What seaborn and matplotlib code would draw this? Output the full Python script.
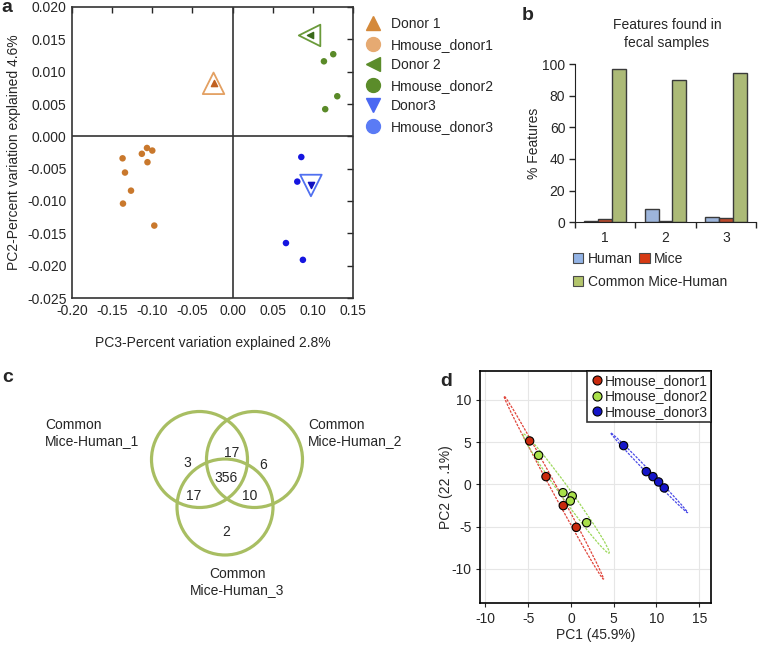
import numpy as np
import pandas as pd
import matplotlib
matplotlib.use('Agg')
import matplotlib.pyplot as plt
from matplotlib.lines import Line2D
from matplotlib.patches import Ellipse, Circle, Patch
import seaborn as sns

# ---- panel a: PCoA donors vs humanized mice
hm1_x = [-0.137, -0.134, -0.1265, -0.1365, -0.113, -0.1066, -0.100, -0.106, -0.0975]
hm1_y = [-0.0034, -0.0056, -0.0084, -0.0104, -0.0027, -0.0018, -0.0022, -0.0040, -0.0138]
hm2_x = [0.1254, 0.1138, 0.1304, 0.1154]
hm2_y = [0.0127, 0.0116, 0.0062, 0.0042]
hm3_x = [0.0856, 0.0806, 0.0665, 0.0876]
hm3_y = [-0.0032, -0.0070, -0.0165, -0.0191]
donor_x = [-0.0237, 0.0959, 0.0976]
donor_y = [0.0082, 0.0156, -0.0076]

# ---- panel b: features found in fecal samples
groups_b = ['1', '2', '3']
human_pct = [0.8, 8.6, 3.4]
mice_pct = [1.9, 1.0, 2.8]
common_pct = [96.8, 90.1, 94.3]

# ---- panel c: venn counts
venn_sets = ['Common\nMice-Human_1', 'Common\nMice-Human_2', 'Common\nMice-Human_3']
only1, only2, only3 = 3, 6, 2
both12, both13, both23 = 17, 17, 10
all3 = 356

# ---- panel d: PCA of humanized mice
pd1_x = [-4.82, -2.91, -0.89, 0.63]
pd1_y = [5.15, 0.93, -2.50, -5.07]
pd2_x = [-3.77, -0.93, 0.16, -0.07, 1.84]
pd2_y = [3.45, -0.97, -1.36, -1.95, -4.52]
pd3_x = [6.16, 8.81, 9.59, 10.25, 10.91]
pd3_y = [4.60, 1.52, 0.93, 0.30, -0.41]

sns.set_style('white')
plt.rcParams['font.family'] = ['Liberation Sans', 'DejaVu Sans']
plt.rcParams['font.size'] = 10
plt.rcParams['axes.unicode_minus'] = False

W, H = 759, 648
fig = plt.figure(figsize=(W / 100, H / 100), dpi=100)

def box(l, t, r, b):
    return [l / W, 1 - b / H, (r - l) / W, (b - t) / H]

# ================= a
ax = fig.add_axes(box(72, 7, 353, 298))
c_or, c_gr, c_bl = '#C9782C', '#5A8A28', '#1515E0'
sns.scatterplot(x=hm1_x, y=hm1_y, color=c_or, s=22, edgecolor='none', ax=ax)
sns.scatterplot(x=hm2_x, y=hm2_y, color=c_gr, s=22, edgecolor='none', ax=ax)
sns.scatterplot(x=hm3_x, y=hm3_y, color=c_bl, s=22, edgecolor='none', ax=ax)
hollow_cols = ['#E3A062', '#6A9A3A', '#5070F0']
inner_cols = ['#C06020', '#3A6A1A', '#1010C0']
marks = ['^', '<', 'v']
for i in range(3):
    ax.scatter(donor_x[i], donor_y[i], marker=marks[i], s=240, facecolor='none',
               edgecolor=hollow_cols[i], linewidth=1.3)
    ax.scatter(donor_x[i], donor_y[i], marker=marks[i], s=20, color=inner_cols[i])
ax.axhline(0, color='#333333', lw=1.2)
ax.axvline(0, color='#333333', lw=1.2)
ax.set_xlim(-0.20, 0.15)
ax.set_ylim(-0.025, 0.020)
xt = np.round(np.arange(-0.20, 0.151, 0.05), 2) + 0.0
yt = np.round(np.arange(-0.025, 0.0201, 0.005), 3) + 0.0
ax.set_xticks(xt)
ax.set_yticks(yt)
ax.set_xticklabels(['%.2f' % abs(v) if abs(v) < 1e-9 else '%.2f' % v for v in xt])
ax.set_yticklabels(['%.3f' % abs(v) if abs(v) < 1e-9 else '%.3f' % v for v in yt])
ax.tick_params(direction='in', length=4, width=1, top=True, right=True, labelsize=10, pad=4)
for sp in ax.spines.values():
    sp.set_color('#333333')
    sp.set_linewidth(1.2)
ax.set_xlabel('PC3-Percent variation explained 2.8%', fontsize=10, labelpad=13)
ax.set_ylabel('PC2-Percent variation explained 4.6%', fontsize=10, labelpad=4)

leg_h = [Line2D([], [], ls='none', marker='^', color='#D4893A', ms=10),
         Line2D([], [], ls='none', marker='o', color='#E6AA72', ms=10),
         Line2D([], [], ls='none', marker='<', color='#5B8C2A', ms=10),
         Line2D([], [], ls='none', marker='o', color='#5B8C2A', ms=10),
         Line2D([], [], ls='none', marker='v', color='#4A68F2', ms=10),
         Line2D([], [], ls='none', marker='o', color='#5A7BF5', ms=10)]
leg_l = ['Donor 1', 'Hmouse_donor1', 'Donor 2', 'Hmouse_donor2', 'Donor3', 'Hmouse_donor3']
fig.legend(leg_h, leg_l, loc='upper left', bbox_to_anchor=(365 / W, 1 - 17 / H),
           frameon=False, fontsize=10, labelspacing=0.47, handletextpad=0.65,
           borderpad=0, borderaxespad=0, handlelength=1.2)

# ================= b
axb = fig.add_axes(box(575, 64, 756, 222.3))
df_b = pd.DataFrame({
    'group': groups_b * 3,
    'source': ['Human'] * 3 + ['Mice'] * 3 + ['Common Mice-Human'] * 3,
    'value': human_pct + mice_pct + common_pct,
})
pal_b = ['#93B3E5', '#D63A14', '#B3C56C']
sns.barplot(data=df_b, x='group', y='value', hue='source', palette=pal_b, width=0.69,
            edgecolor='#3A3A3A', linewidth=1.0, legend=False, ax=axb)
axb.set_xlim(-0.5, 2.5)
axb.set_ylim(0, 100)
axb.set_yticks([0, 20, 40, 60, 80, 100])
axb.set_xticks([-0.5, 0.5, 1.5, 2.5], minor=True)
axb.tick_params(axis='x', which='major', length=0, labelsize=10, pad=6)
axb.tick_params(axis='x', which='minor', length=4, width=1, direction='out', bottom=True)
axb.tick_params(axis='y', length=4, width=1, direction='out', left=True, labelsize=10, pad=3)
sns.despine(ax=axb)
axb.spines['left'].set_color('#222222')
axb.spines['bottom'].set_color('#222222')
axb.set_xlabel('')
axb.set_ylabel('% Features', fontsize=10, labelpad=1)
fig.text(667 / W, 1 - 34 / H, 'Features found in\nfecal samples', ha='center', va='center',
         fontsize=10, linespacing=1.35)
hb = [Patch(facecolor=c, edgecolor='#4A4A4A', lw=0.8) for c in pal_b]
fig.legend(hb[:2], ['Human', 'Mice'], loc='center left', ncol=2,
           bbox_to_anchor=(573 / W, 1 - 259 / H), frameon=False, fontsize=10,
           handlelength=0.75, handleheight=0.75, handletextpad=0.3, columnspacing=0.5,
           borderpad=0, borderaxespad=0)
fig.legend(hb[2:], ['Common Mice-Human'], loc='center left',
           bbox_to_anchor=(573 / W, 1 - 282 / H), frameon=False, fontsize=10,
           handlelength=0.75, handleheight=0.75, handletextpad=0.3,
           borderpad=0, borderaxespad=0)

# ================= c
axc = fig.add_axes([0, 0, 380 / W, 290 / H])
axc.set_xlim(0, 380)
axc.set_ylim(648, 358)
axc.axis('off')
r = 48
cx = [199.5, 254.5, 225]
cy = [459.5, 459.5, 507]
for i in range(3):
    axc.add_patch(Circle((cx[i], cy[i]), r, fill=False, ec='#A8BE62', lw=2.3))
vals = [only1, both12, only2, all3, both13, both23, only3]
spots = [(187, 463), (231.5, 453), (263.5, 465), (226.5, 478.5), (193.5, 496.5), (250, 496.5), (226.5, 531.5)]
for v, (tx, ty) in zip(vals, spots):
    axc.text(tx, ty, str(v), ha='center', va='center', fontsize=10)
axc.text(45, 433, venn_sets[0], ha='left', va='center', fontsize=10, linespacing=1.2)
axc.text(308, 433, venn_sets[1], ha='left', va='center', fontsize=10, linespacing=1.2)
axc.text(237, 582, venn_sets[2], ha='center', va='center', fontsize=10, linespacing=1.2,
         multialignment='center')

# ================= d
axd = fig.add_axes(box(480, 371, 711, 603.3))
df_d = pd.DataFrame({
    'PC1': pd1_x + pd2_x + pd3_x,
    'PC2': pd1_y + pd2_y + pd3_y,
    'grp': ['Hmouse_donor1'] * 4 + ['Hmouse_donor2'] * 5 + ['Hmouse_donor3'] * 5,
})
pal_d = {'Hmouse_donor1': '#C92A0E', 'Hmouse_donor2': '#A9E04A', 'Hmouse_donor3': '#1515C8'}
ell_c = {'Hmouse_donor1': '#E0443A', 'Hmouse_donor2': '#9CD85A', 'Hmouse_donor3': '#4A4AE6'}
for g, sub in df_d.groupby('grp'):
    pts = sub[['PC1', 'PC2']].to_numpy()
    cov = np.cov(pts.T)
    ev, evec = np.linalg.eigh(cov)
    k = np.sqrt(5.991)
    ang = np.degrees(np.arctan2(evec[1, 1], evec[0, 1]))
    axd.add_patch(Ellipse(pts.mean(axis=0), 2 * k * np.sqrt(ev[1]), 2 * k * np.sqrt(ev[0]),
                          angle=ang, fill=False, ec=ell_c[g], lw=0.9, ls=(0, (2, 1))))
sns.scatterplot(data=df_d, x='PC1', y='PC2', hue='grp', palette=pal_d, s=36,
                edgecolor='black', linewidth=0.8, legend=False, ax=axd, zorder=3)
axd.set_xlim(-10.62, 16.37)
axd.set_ylim(-14.06, 13.43)
axd.set_xticks([-10, -5, 0, 5, 10, 15])
axd.set_yticks([-10, -5, 0, 5, 10])
axd.grid(True, color='#E6E6E6', lw=0.8)
axd.set_axisbelow(True)
for sp in axd.spines.values():
    sp.set_color('black')
    sp.set_linewidth(1.2)
axd.tick_params(direction='out', length=3, width=0.8, left=True, bottom=True, labelsize=10, pad=3)
axd.set_xlabel('PC1 (45.9%)', fontsize=10, labelpad=2)
axd.set_ylabel('PC2 (22 .1%)', fontsize=10, labelpad=-1)
hd = [Line2D([], [], ls='none', marker='o', mfc=pal_d[g], mec='black', ms=6.5, mew=0.8)
      for g in pal_d]
lgd = axd.legend(hd, list(pal_d), loc='upper right', bbox_to_anchor=(1, 1), fontsize=10,
                 frameon=True, fancybox=False, edgecolor='black', labelspacing=0.12,
                 handletextpad=0.1, handlelength=1.0, borderpad=0.2, borderaxespad=0)
lgd.get_frame().set_linewidth(1.2)

# panel letters
for lab, x, y in [('a', 1, 8), ('b', 522, 15), ('c', 2, 378), ('d', 440, 382)]:
    fig.text(x / W, 1 - y / H, lab, fontsize=14, fontweight='bold', ha='left', va='center')

fig.savefig('out.png', dpi=100)
